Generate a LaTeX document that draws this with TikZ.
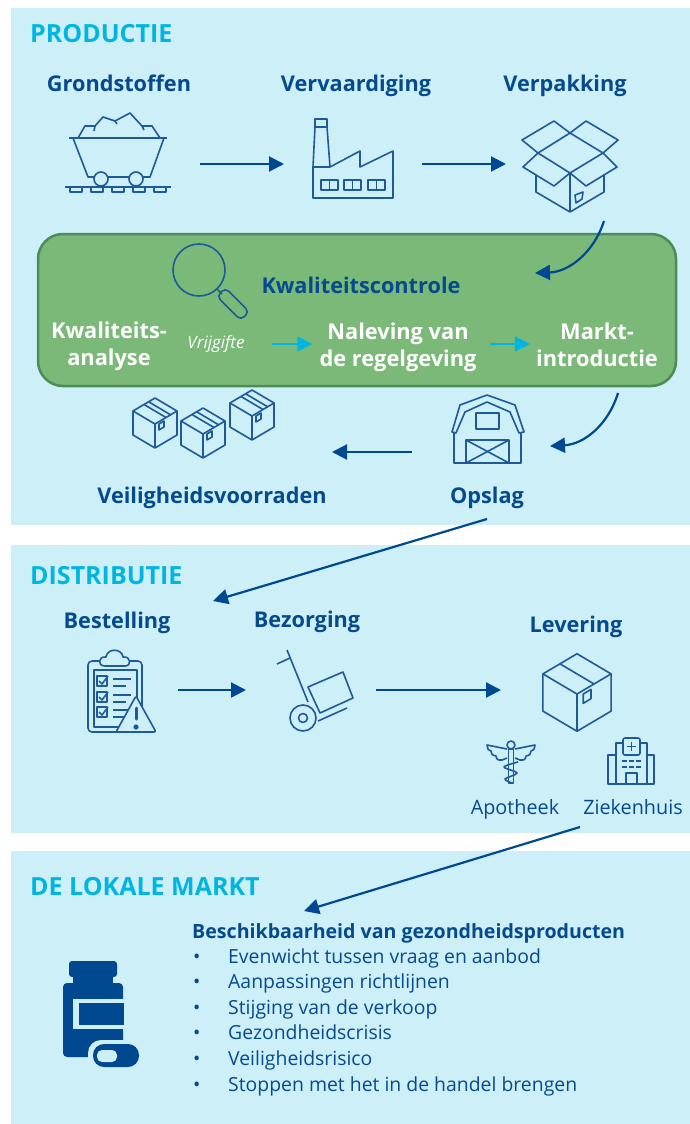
\documentclass[tikz,border=0pt]{standalone}
\usepackage{fontspec}
\setmainfont{Open Sans}
\usetikzlibrary{arrows.meta}
\definecolor{panelblue}{HTML}{CDEFF8}
\definecolor{navy}{HTML}{064A8E}
\definecolor{arrownavy}{HTML}{004990}
\definecolor{iconblue}{HTML}{1F5A98}
\definecolor{headcyan}{HTML}{00B5E2}
\definecolor{qcgreen}{HTML}{7BB978}
\definecolor{qcborder}{HTML}{4C8C58}
\tikzset{
    closedbox/.pic={
        \draw[icon] (0,-25) -- (22,-12) -- (0,1) -- (-22,-12) -- cycle;
        \draw[icon] (-22,-12) -- (-22,12) -- (0,25) -- (22,12) -- (22,-12);
        \draw[icon] (0,1) -- (0,25);
        \draw[icon] (-11,-18.5) -- (11,-5.5);
        \draw[icon] (4,1) -- (9,-2) -- (9,4) -- (4,7) -- cycle;
    }
}
\begin{document}
\begin{tikzpicture}
                [x=1pt, y=-1pt,
                panel/.style={
                    rectangle,
                    fill=panelblue,
                    inner sep=0pt
                },
                qcbox/.style={
                    rectangle,
                    draw=qcborder,
                    line width=2.5pt,
                    fill=qcgreen,
                    rounded corners=25pt,
                    inner sep=0pt
                },
                iconbox/.style={
                    rectangle,
                    inner sep=0pt,
                    outer sep=0pt,
                    minimum height=10pt
                },
                heading/.style={
                    anchor=base west,
                    inner sep=0pt,
                    text=headcyan,
                    font=\fontsize{25}{30}\selectfont\bfseries
                },
                stage/.style={
                    anchor=base,
                    inner sep=0pt,
                    text=navy,
                    font=\fontsize{21.7}{26}\selectfont\bfseries
                },
                qcstage/.style={
                    inner sep=0pt,
                    text=white,
                    align=center,
                    font=\fontsize{21.8}{27}\selectfont\bfseries
                },
                place/.style={
                    anchor=base,
                    inner sep=0pt,
                    text=navy,
                    font=\fontsize{19.8}{24}\selectfont
                },
                listitem/.style={
                    anchor=base west,
                    inner sep=0pt,
                    text=navy,
                    font=\fontsize{19.4}{23}\selectfont
                },
                icon/.style={
                    draw=iconblue, line width=1.6pt, line join=round
                },
                flow/.style={
                    draw=arrownavy, line width=2.2pt, -{Triangle[length=15pt,width=15pt]}
                },
                qcflow/.style={
                    draw=headcyan, line width=2pt, -{Triangle[length=15pt,width=15pt]}
                }
                ]
                \useasboundingbox (0,0) rectangle (690,1124);

                % Panels
                \node[panel, minimum width=679pt, minimum height=517pt] (productie) at (350.5,266.5) {};
                \node[panel, minimum width=679pt, minimum height=288pt] (distributie) at (350.5,689) {};
                \node[panel, minimum width=679pt, minimum height=273pt] (markt) at (350.5,987.5) {};
                \node[qcbox, minimum width=638pt, minimum height=152pt] (kwaliteit) at (357,310) {};

                % Headings
                \node[heading] (headprod) at (30,43) {PRODUCTIE};
                \node[heading] (headdist) at (30,584) {DISTRIBUTIE};
                \node[heading] (headmarkt) at (30,895) {DE LOKALE MARKT};

                % Stage labels
                \node[stage] (grondstoffen) at (119,92) {Grondstoffen};
                \node[stage] (vervaardiging) at (356,92) {Vervaardiging};
                \node[stage] (verpakking) at (565,92) {Verpakking};
                \node[stage] (controle) at (361,293) {Kwaliteitscontrole};
                \node[stage] (voorraden) at (212,503) {Veiligheidsvoorraden};
                \node[stage] (opslag) at (487,503) {Opslag};
                \node[stage] (bestelling) at (117,628) {Bestelling};
                \node[stage] (bezorging) at (307,627) {Bezorging};
                \node[stage] (levering) at (576,632) {Levering};
                \node[place] (apotheek) at (515,814) {Apotheek};
                \node[place] (ziekenhuis) at (633,814) {Ziekenhuis};

                % Inside the green box
                \node[qcstage] (analyse) at (109,346) {Kwaliteits-\\analyse};
                \node[inner sep=0pt, text=white, font=\fontsize{17}{20}\selectfont\itshape] (vrijgifte) at (216,344) {Vrijgifte};
                \node[qcstage] (naleving) at (398,347) {Naleving van\\de regelgeving};
                \node[qcstage] (introductie) at (597,345) {Markt-\\introductie};

                % Spots that the arrows start from and end at
                \node[iconbox, minimum width=164pt] (cart) at (118,164) {};
                \node[iconbox, minimum width=138pt] (factory) at (353,164) {};
                \node[iconbox, minimum width=128pt] (openbox) at (570,164) {};
                \node[iconbox, minimum width=150pt] (barn) at (487,452) {};
                \node[iconbox, minimum width=254pt] (stock) at (205,452) {};
                \node[iconbox, minimum width=110pt] (clipboard) at (123,690) {};
                \node[iconbox, minimum width=130pt] (truck) at (311,690) {};
                \node[iconbox, minimum width=152pt] (delivery) at (577,690) {};
                \coordinate (packout) at (604,221);
                \coordinate (qcin) at (535,273);
                \coordinate (marktout) at (618,393);
                \coordinate (barnin) at (550,446);
                \coordinate (opslagout) at (487,519);
                \coordinate (bestelin) at (213,601);
                \coordinate (ziekout) at (580,827);
                \coordinate (beschikin) at (304,911);

                % Arrows
                \path [flow] (cart.east) -- (factory.west);
                \path [flow] (factory.east) -- (openbox.west);
                \path [flow] (packout) to[bend left=35] (qcin);
                \path [flow] (marktout) to[bend left=35] (barnin);
                \path [flow] (barn.west) -- (stock.east);
                \path [flow] (opslagout) -- (bestelin);
                \path [flow] (clipboard.east) -- (truck.west);
                \path [flow] (truck.east) -- (delivery.west);
                \path [flow] (ziekout) -- (beschikin);
                \path [qcflow, shorten <=27pt, shorten >=7pt] (vrijgifte.east) -- (vrijgifte.east -| naleving.west);
                \path [qcflow, shorten <=13pt, shorten >=6pt] (naleving.east |- vrijgifte.east) -- (introductie.west |- vrijgifte.east);

                % Mine cart
                \draw[icon] (69,138) -- (167,138);
                \draw[icon] (73,138) -- (88,177) -- (150,177) -- (164,138);
                \draw[icon, fill=panelblue] (101,179) circle (7);
                \draw[icon, fill=panelblue] (136,179) circle (7);
                \draw[icon] (65,187) -- (171,187);
                \foreach \tie in {70,91,112,133,154}{
                    \draw[icon] (\tie,187) rectangle ++(12,5);
                }
                \draw[icon] (78,138) -- (85,126) -- (95,126) -- (103,117) -- (115,121) -- (130,113) -- (142,126) -- (152,126) -- (160,138);
                \draw[icon] (95,126) -- (94,131);
                \draw[icon] (115,121) -- (117,124);
                \draw[icon] (142,126) -- (144,130);

                % Factory
                \draw[icon] (315,127) -- (315,119) -- (327,119) -- (327,127) -- cycle;
                \draw[icon] (315,127) -- (313,167) -- (313,198) -- (393,198) -- (393,151) -- (360,167) -- (360,151) -- (330,167) -- (327,127);
                \draw[icon] (313,167) -- (330,167);
                \foreach \win in {321,344,368}{
                    \draw[icon] (\win,180) rectangle ++(17,10);
                    \draw[icon] (\win+8.5,180) -- ++(0,10);
                }

                % Open box
                \draw[icon] (570,133) -- (603,153) -- (570,173) -- (538,153) -- cycle;
                \draw[icon] (538,153) -- (522,140) -- (554,121) -- (570,133);
                \draw[icon] (570,133) -- (586,121) -- (618,140) -- (603,153);
                \draw[icon] (538,153) -- (523,167) -- (554,186) -- (570,173);
                \draw[icon] (603,153) -- (617,167) -- (586,186) -- (570,173);
                \draw[icon] (536,175) -- (536,192) -- (570,212) -- (604,192) -- (604,175);
                \draw[icon] (570,173) -- (570,212);
                \draw[icon] (575,195) -- (583,192) -- (582,199) -- (576,203) -- cycle;

                % Magnifier
                \draw[icon] (199,270) circle (26);
                \draw[icon] (217,289) -- (222,294);
                \draw[icon, rounded corners=5pt, rotate around={-45:(233,304)}] (216,298) rectangle (250,310);

                % Stock boxes
                \foreach \bx/\by in {155/423, 203/433, 252/415}{
                    \pic at (\bx,\by) {closedbox};
                    \draw[icon] (\bx-6,\by-21) -- ++(22,13);
                }

                % Barn
                \draw[icon] (452,432) -- (460,405) -- (487,395) -- (515,405) -- (524,432) -- (519,433) -- (510,412) -- (487,402) -- (465,412) -- (456,433) -- cycle;
                \draw[icon] (454,433) -- (454,463) -- (521,463) -- (521,433);
                \draw[icon] (466,440) rectangle (509,463);
                \draw[icon] (466,440) -- (509,463);
                \draw[icon] (466,463) -- (509,440);
                \draw[icon] (476,413) rectangle (499,429);

                % Clipboard with warning sign
                \draw[icon, rounded corners=4pt] (101,661) -- (88,661) -- (88,732) -- (142,732) -- (142,661) -- (129,661);
                \draw[icon, fill=panelblue] (105,666) .. controls (97,666) and (98,656) .. (106,657) .. controls (107,648) and (122,648) .. (123,657) .. controls (131,656) and (132,666) .. (125,666) -- cycle;
                \draw[icon] (94,670) rectangle (137,727);
                \foreach \cy in {676,692,707}{
                    \draw[icon] (97,\cy) rectangle ++(10,10);
                    \draw[icon] (99,\cy+5) -- ++(3,3) -- ++(6,-8);
                    \draw[icon] (113,\cy+3) -- ++(18,0);
                    \draw[icon] (113,\cy+10) -- ++(13,0);
                }
                \draw[icon, fill=panelblue, rounded corners=2pt] (136,696) -- (116,732) -- (156,732) -- cycle;
                \draw[iconblue, line width=3pt, line cap=round] (136,708) -- (136,719);
                \fill[iconblue] (136,727) circle (2.6);

                % Hand truck
                \draw[icon] (287,650) -- (308,702);
                \draw[icon] (277,664) -- (290,658);
                \draw[icon] (303,718) circle (13);
                \draw[icon] (303,718) circle (4.5);
                \draw[icon] (308,687) -- (343,672) -- (353,698) -- (320,713) -- cycle;
                \draw[icon] (318,721) -- (347,708);

                % Delivered box
                \pic[scale=1.55] at (577,692.5) {closedbox};

                % Caduceus
                \foreach \s in {1,-1}{
                    \begin{scope}[shift={(511,0)}, xscale=\s]
                        \draw[icon] (-4,749) -- (-24,745) .. controls (-23,750) .. (-20,751) .. controls (-19,755) .. (-15,756) .. controls (-14,760) .. (-9,760) -- (-4,758);
                    \end{scope}
                }
                \draw[icon] (511,745) circle (4);
                \draw[icon] (508.5,749) rectangle (513.5,783);
                \draw[icon] plot[smooth] coordinates {(518,762) (504,767) (517,773) (505,779) (512,783)};

                % Hospital
                \draw[icon] (616,755) -- (608,755) -- (608,784) -- (654,784) -- (654,755) -- (647,755);
                \draw[icon] (616,784) -- (616,743) -- (623,743);
                \draw[icon] (647,784) -- (647,743) -- (640,743);
                \draw[icon, rounded corners=2pt] (623,738) rectangle (640,755);
                \draw[icon] (631.5,742) -- (631.5,751);
                \draw[icon] (627,746.5) -- (636,746.5);
                \draw[icon, dash pattern=on 5pt off 2pt] (622,761) -- (642,761);
                \draw[icon, dash pattern=on 5pt off 2pt] (622,767) -- (642,767);
                \draw[icon] (626,784) -- (626,773) -- (637,773) -- (637,784);

                % Medicine bottle and capsule
                \fill[arrownavy, rounded corners=3pt] (69,961) rectangle (117,977);
                \fill[arrownavy] (73,975) rectangle (113,985);
                \fill[arrownavy, rounded corners=4pt] (63,983) rectangle (123,1057);
                \fill[panelblue] (73,999) rectangle (124,1029);
                \fill[arrownavy] (79,1003) rectangle (124,1025);
                \fill[panelblue, rounded corners=13pt] (88,1040) rectangle (142,1071);
                \fill[arrownavy, rounded corners=11pt] (93,1044) rectangle (139,1067);
                \fill[panelblue, rounded corners=5pt] (97,1050) -- (117,1050) -- (117,1062) -- (97,1062) -- cycle;

                % Availability list
                \node[listitem, font=\fontsize{19.6}{24}\selectfont\bfseries] (beschik) at (192,938) {Beschikbaarheid van gezondheidsproducten};
                \foreach \i/\ypos/\txt in {1/963/Evenwicht tussen vraag en aanbod,
                    2/988/Aanpassingen richtlijnen,
                    3/1014/Stijging van de verkoop,
                    4/1039/Gezondheidscrisis,
                    5/1065/Veiligheidsrisico,
                    6/1091/Stoppen met het in de handel brengen}{
                    \node[listitem] (bullet\i) at (193,\ypos) {•};
                    \node[listitem] (item\i) at (228,\ypos) {\txt};
                }
            \end{tikzpicture}
\end{document}
